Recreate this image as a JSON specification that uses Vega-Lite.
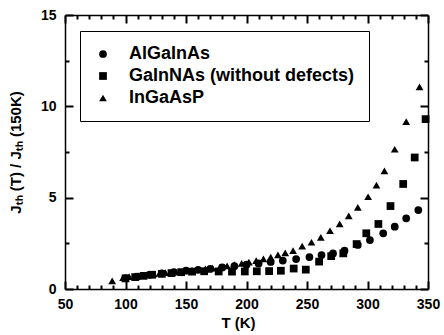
{
  "$schema": "https://vega.github.io/schema/vega-lite/v6.json",
  "width": 363,
  "height": 274,
  "autosize": {"type": "none"},
  "padding": {"left": 65, "top": 15, "right": 16, "bottom": 46},
  "config": {
    "axis": {
      "grid": false,
      "tickWidth": 2,
      "ticks": true,
      "tickOpacity": 1,
      "domainColor": "black",
      "domainWidth": 1.5,
      "labelFont": "Liberation Sans",
      "labelFontSize": 14,
      "labelFontWeight": "bold",
      "labelColor": "black",
      "titleFont": "Liberation Sans",
      "titleFontSize": 15,
      "titleFontWeight": "bold",
      "titleColor": "black"
    }
  },
  "data": {
    "values": [
      {"T": 100, "r": 0.6, "m": "AlGaInAs"},
      {"T": 110, "r": 0.68, "m": "AlGaInAs"},
      {"T": 120, "r": 0.78, "m": "AlGaInAs"},
      {"T": 130, "r": 0.86, "m": "AlGaInAs"},
      {"T": 140, "r": 0.93, "m": "AlGaInAs"},
      {"T": 150, "r": 1.0, "m": "AlGaInAs"},
      {"T": 160, "r": 1.05, "m": "AlGaInAs"},
      {"T": 170, "r": 1.1, "m": "AlGaInAs"},
      {"T": 180, "r": 1.18, "m": "AlGaInAs"},
      {"T": 190, "r": 1.25, "m": "AlGaInAs"},
      {"T": 200, "r": 1.33, "m": "AlGaInAs"},
      {"T": 210, "r": 1.4, "m": "AlGaInAs"},
      {"T": 220, "r": 1.48, "m": "AlGaInAs"},
      {"T": 230, "r": 1.56, "m": "AlGaInAs"},
      {"T": 241, "r": 1.64, "m": "AlGaInAs"},
      {"T": 252, "r": 1.75, "m": "AlGaInAs"},
      {"T": 262, "r": 1.86, "m": "AlGaInAs"},
      {"T": 271.5, "r": 1.95, "m": "AlGaInAs"},
      {"T": 281, "r": 2.1, "m": "AlGaInAs"},
      {"T": 292, "r": 2.41, "m": "AlGaInAs"},
      {"T": 302, "r": 2.68, "m": "AlGaInAs"},
      {"T": 313, "r": 3.05, "m": "AlGaInAs"},
      {"T": 322.5, "r": 3.41, "m": "AlGaInAs"},
      {"T": 332, "r": 3.87, "m": "AlGaInAs"},
      {"T": 342, "r": 4.32, "m": "AlGaInAs"},
      {"T": 100, "r": 0.58, "m": "GaInNAs (without defects)"},
      {"T": 108, "r": 0.65, "m": "GaInNAs (without defects)"},
      {"T": 115, "r": 0.72, "m": "GaInNAs (without defects)"},
      {"T": 122, "r": 0.78, "m": "GaInNAs (without defects)"},
      {"T": 130, "r": 0.83, "m": "GaInNAs (without defects)"},
      {"T": 138, "r": 0.87, "m": "GaInNAs (without defects)"},
      {"T": 146, "r": 0.92, "m": "GaInNAs (without defects)"},
      {"T": 155, "r": 0.95, "m": "GaInNAs (without defects)"},
      {"T": 165, "r": 0.97, "m": "GaInNAs (without defects)"},
      {"T": 177, "r": 0.96, "m": "GaInNAs (without defects)"},
      {"T": 188, "r": 0.95, "m": "GaInNAs (without defects)"},
      {"T": 198.6, "r": 0.96, "m": "GaInNAs (without defects)"},
      {"T": 208.5, "r": 0.97, "m": "GaInNAs (without defects)"},
      {"T": 218.7, "r": 0.98, "m": "GaInNAs (without defects)"},
      {"T": 228.4, "r": 1.0, "m": "GaInNAs (without defects)"},
      {"T": 239, "r": 1.12, "m": "GaInNAs (without defects)"},
      {"T": 249, "r": 1.06, "m": "GaInNAs (without defects)"},
      {"T": 260, "r": 1.5, "m": "GaInNAs (without defects)"},
      {"T": 270, "r": 1.8, "m": "GaInNAs (without defects)"},
      {"T": 280, "r": 1.95, "m": "GaInNAs (without defects)"},
      {"T": 291, "r": 2.46, "m": "GaInNAs (without defects)"},
      {"T": 299, "r": 3.05, "m": "GaInNAs (without defects)"},
      {"T": 309, "r": 3.56, "m": "GaInNAs (without defects)"},
      {"T": 319, "r": 4.54, "m": "GaInNAs (without defects)"},
      {"T": 329.5, "r": 5.75, "m": "GaInNAs (without defects)"},
      {"T": 339, "r": 7.2, "m": "GaInNAs (without defects)"},
      {"T": 348, "r": 9.3, "m": "GaInNAs (without defects)"},
      {"T": 89, "r": 0.45, "m": "InGaAsP"},
      {"T": 98, "r": 0.62, "m": "InGaAsP"},
      {"T": 103, "r": 0.68, "m": "InGaAsP"},
      {"T": 108, "r": 0.72, "m": "InGaAsP"},
      {"T": 113, "r": 0.75, "m": "InGaAsP"},
      {"T": 118, "r": 0.8, "m": "InGaAsP"},
      {"T": 123, "r": 0.83, "m": "InGaAsP"},
      {"T": 128, "r": 0.86, "m": "InGaAsP"},
      {"T": 133, "r": 0.9, "m": "InGaAsP"},
      {"T": 140, "r": 0.93, "m": "InGaAsP"},
      {"T": 145, "r": 0.96, "m": "InGaAsP"},
      {"T": 150, "r": 1.0, "m": "InGaAsP"},
      {"T": 155, "r": 1.03, "m": "InGaAsP"},
      {"T": 160, "r": 1.06, "m": "InGaAsP"},
      {"T": 166, "r": 1.1, "m": "InGaAsP"},
      {"T": 172, "r": 1.14, "m": "InGaAsP"},
      {"T": 178, "r": 1.2, "m": "InGaAsP"},
      {"T": 184, "r": 1.27, "m": "InGaAsP"},
      {"T": 190, "r": 1.33, "m": "InGaAsP"},
      {"T": 196, "r": 1.4, "m": "InGaAsP"},
      {"T": 202, "r": 1.47, "m": "InGaAsP"},
      {"T": 208, "r": 1.55, "m": "InGaAsP"},
      {"T": 214, "r": 1.65, "m": "InGaAsP"},
      {"T": 220, "r": 1.75, "m": "InGaAsP"},
      {"T": 226, "r": 1.87, "m": "InGaAsP"},
      {"T": 232, "r": 1.98, "m": "InGaAsP"},
      {"T": 238.5, "r": 2.1, "m": "InGaAsP"},
      {"T": 246, "r": 2.35, "m": "InGaAsP"},
      {"T": 253.7, "r": 2.56, "m": "InGaAsP"},
      {"T": 261.4, "r": 2.83, "m": "InGaAsP"},
      {"T": 269, "r": 3.19, "m": "InGaAsP"},
      {"T": 277, "r": 3.56, "m": "InGaAsP"},
      {"T": 284.5, "r": 4.0, "m": "InGaAsP"},
      {"T": 292, "r": 4.47, "m": "InGaAsP"},
      {"T": 300.5, "r": 5.05, "m": "InGaAsP"},
      {"T": 307.4, "r": 5.69, "m": "InGaAsP"},
      {"T": 314, "r": 6.47, "m": "InGaAsP"},
      {"T": 322.5, "r": 7.65, "m": "InGaAsP"},
      {"T": 332, "r": 9.16, "m": "InGaAsP"},
      {"T": 343, "r": 11.06, "m": "InGaAsP"}
    ]
  },
  "layer": [
    {
      "mark": {"type": "point", "filled": true, "size": 60, "opacity": 1, "color": "black"},
      "encoding": {
        "x": {
          "field": "T", "type": "quantitative",
          "scale": {"domain": [50, 350], "nice": false, "zero": false},
          "axis": {
            "orient": "bottom",
            "title": "T (K)",
            "titleX": 173,
            "titlePadding": 4,
            "values": [50, 100, 150, 200, 250, 300, 350],
            "tickColor": "#000000",
            "tickSize": -8,
            "labelPadding": 16,
            "labelFlush": false
          }
        },
        "y": {
          "field": "r", "type": "quantitative",
          "scale": {"domain": [0, 15], "nice": false},
          "axis": {
            "orient": "left",
            "title": "Jₜₕ (T) / Jₜₕ (150K)",
            "titleX": -42,
            "titleY": 137,
            "values": [0, 5, 10, 15],
            "tickColor": "#000000",
            "tickSize": -8,
            "labelPadding": 17,
            "labelFlush": false
          }
        },
        "shape": {
          "field": "m", "type": "nominal",
          "scale": {"domain": ["AlGaInAs", "GaInNAs (without defects)", "InGaAsP"], "range": ["circle", "square", "triangle-up"]},
          "legend": {
            "title": null,
            "orient": "none",
            "legendX": 15,
            "legendY": 16,
            "strokeColor": "black",
            "fillColor": "white",
            "padding": 14,
            "rowPadding": 4,
            "labelFont": "Liberation Sans",
            "labelFontSize": 18,
            "labelFontWeight": "bold",
            "labelColor": "black",
            "labelLimit": 400,
            "labelOffset": 17,
            "symbolSize": 60,
            "symbolFillColor": "black",
            "symbolStrokeWidth": 0
          }
        }
      }
    },
    {
      "mark": {"type": "point", "opacity": 0},
      "encoding": {
        "x": {
          "field": "T", "type": "quantitative",
          "axis": {"orient": "top", "title": null, "labels": false, "values": [50, 100, 150, 200, 250, 300, 350], "tickColor": "#000000", "tickSize": -8}
        },
        "y": {
          "field": "r", "type": "quantitative",
          "axis": {"orient": "right", "title": null, "labels": false, "values": [0, 5, 10, 15], "tickColor": "#000000", "tickSize": -8}
        }
      }
    },
    {
      "mark": {"type": "point", "opacity": 0},
      "encoding": {
        "x": {
          "field": "T", "type": "quantitative",
          "axis": {"orient": "bottom", "title": null, "labels": false, "domain": false, "values": [60,70,80,90,110,120,130,140,160,170,180,190,210,220,230,240,260,270,280,290,310,320,330,340], "tickColor": "#000000", "tickSize": -4}
        },
        "y": {
          "field": "r", "type": "quantitative",
          "axis": {"orient": "left", "title": null, "labels": false, "domain": false, "values": [2.5, 7.5, 12.5], "tickColor": "#000000", "tickSize": -4}
        }
      }
    },
    {
      "mark": {"type": "point", "opacity": 0},
      "encoding": {
        "x": {
          "field": "T", "type": "quantitative",
          "axis": {"orient": "top", "title": null, "labels": false, "domain": false, "values": [60,70,80,90,110,120,130,140,160,170,180,190,210,220,230,240,260,270,280,290,310,320,330,340], "tickColor": "#000000", "tickSize": -4}
        },
        "y": {
          "field": "r", "type": "quantitative",
          "axis": {"orient": "right", "title": null, "labels": false, "domain": false, "values": [2.5, 7.5, 12.5], "tickColor": "#000000", "tickSize": -4}
        }
      }
    }
  ],
  "resolve": {"axis": {"x": "independent", "y": "independent"}}
}
